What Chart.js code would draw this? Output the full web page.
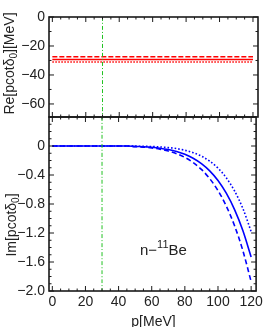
<!DOCTYPE html>
<html><head><meta charset="utf-8">
<script src="https://cdn.jsdelivr.net/npm/chart.js@4"></script>
<style>
html,body{margin:0;padding:0;background:#fff;}
#wrap{position:relative;width:266px;height:327px;}
canvas{position:absolute;left:0;top:0;}
</style></head><body>
<div id="wrap"><canvas id="top" width="266" height="327"></canvas><canvas id="bot" width="266" height="327"></canvas></div>
<script>
// ---- data ----
const pLine = [0, 120];
const reSolid = [-29.3, -29.3];
const reDashed = [-27.5, -27.5];
const reDotted = [-31.0, -31.0];
const pGrid = [0,5,10,15,20,25,30,35,40,45,50,55,60,65,70,75,80,85,90,95,100,105,110,115,120];
const imSolid  = [0,0,0,0,0,0,0,0,0,0,-0.006,-0.010,-0.018,-0.030,-0.049,-0.076,-0.114,-0.168,-0.243,-0.343,-0.476,-0.651,-0.877,-1.165,-1.53];
const imDashed = [0,0,0,0,0,0,0,0,0,0,-0.009,-0.016,-0.027,-0.044,-0.070,-0.106,-0.158,-0.228,-0.323,-0.450,-0.615,-0.828,-1.100,-1.442,-1.87];
const imDotted = [0,0,0,0,0,0,0,0,0,0,-0.002,-0.004,-0.007,-0.013,-0.022,-0.036,-0.059,-0.092,-0.140,-0.209,-0.306,-0.439,-0.620,-0.861,-1.18];
const pMark = 30;
const xTicks = [0,20,40,60,80,100,120];
const xTickLabels = ['0','20','40','60','80','100','120'];
const yTopTicks = [0,-20,-40,-60];
const yTopTickLabels = ['0','\u221220','\u221240','\u221260'];
const yBotTicks = [0,-0.4,-0.8,-1.2,-1.6,-2.0];
const yBotTickLabels = ['0','\u22120.4','\u22120.8','\u22121.2','\u22121.6','\u22122.0'];

const FONT = '"Liberation Sans", Arial, sans-serif';
const TXT = '#222';
const xy = (xs, ys) => xs.map((x,i)=>({x:x, y:ys[i]}));

function framePlugin(xMinorStep, yMinorStep) {
  return {
    id: 'frame',
    afterDraw(chart) {
      const {ctx, chartArea:a, scales:{x, y}} = chart;
      ctx.save();
      ctx.strokeStyle = '#1a1a1a';
      const seg = (x1,y1,x2,y2)=>{ctx.beginPath();ctx.moveTo(x1,y1);ctx.lineTo(x2,y2);ctx.stroke();};
      ctx.lineWidth = 1;
      const eps = 1e-6;
      for (let v = Math.ceil(x.min/xMinorStep)*xMinorStep; v <= x.max+eps; v += xMinorStep) {
        const px = x.getPixelForValue(v);
        const major = Math.abs(v/20 - Math.round(v/20)) < 1e-6;
        const L = major ? 5 : 2.5;
        seg(px, a.bottom, px, a.bottom - L);
        seg(px, a.top, px, a.top + L);
      }
      const ym = chart.options.plugins.frame.yMajor;
      for (let v = Math.ceil(y.min/yMinorStep - eps)*yMinorStep; v <= y.max+eps; v += yMinorStep) {
        const py = y.getPixelForValue(v);
        const major = Math.abs(v/ym - Math.round(v/ym)) < 1e-6;
        const L = major ? 5 : 2.5;
        seg(a.left, py, a.left + L, py);
        seg(a.right, py, a.right - L, py);
      }
      ctx.lineWidth = 1.6;
      ctx.strokeRect(a.left, a.top, a.right - a.left, a.bottom - a.top);
      ctx.restore();
    }
  };
}

function drawRotTitle(ctx, parts, cx, cy) {
  // parts: [{t, size, dy}]
  ctx.save();
  ctx.translate(cx, cy);
  ctx.rotate(-Math.PI/2);
  ctx.fillStyle = TXT;
  ctx.textBaseline = 'alphabetic';
  let w = 0;
  parts.forEach(p=>{ctx.font = p.size+'px '+FONT; p.w = ctx.measureText(p.t).width; w += p.w;});
  let x = -w/2;
  parts.forEach(p=>{ctx.font = p.size+'px '+FONT; ctx.fillText(p.t, x, p.dy); x += p.w;});
  ctx.restore();
}

const linesOpts = {pointRadius:0, fill:false, cubicInterpolationMode:'monotone'};

const topChart = new Chart(document.getElementById('top'), {
  type: 'line',
  data: { datasets: [
    {data: xy([pMark,pMark],[0,-69]), borderColor:'#22c222', borderWidth:1, borderDash:[4,2,1,2], ...linesOpts},
    {data: xy(pLine, reDashed), borderColor:'#ff0000', borderWidth:1.5, borderDash:[5,2], ...linesOpts},
    {data: xy(pLine, reSolid), borderColor:'#ff0000', borderWidth:1.5, ...linesOpts},
    {data: xy(pLine, reDotted), borderColor:'#ff0000', borderWidth:1.5, borderDash:[1.5,1.5], ...linesOpts},
  ]},
  options: {
    responsive:false, animation:false, devicePixelRatio:1,
    layout:{padding:{top:17, right:8, bottom:210, left:0}},
    plugins:{legend:{display:false}, tooltip:{enabled:false}, frame:{yMajor:20},
      ytitle:{}},
    scales:{
      x:{type:'linear', min:-2, max:123, display:false},
      y:{type:'linear', min:-69, max:0,
        afterFit:s=>{s.width=49;},
        afterBuildTicks:s=>{s.ticks = yTopTicks.map(v=>({value:v}));},
        grid:{display:false, drawTicks:false}, border:{display:false},
        ticks:{padding:4, color:TXT, font:{family:FONT, size:14}, autoSkip:false,
          callback:(v,i)=>yTopTickLabels[i]}}
    }
  },
  plugins:[framePlugin(5,10), {id:'ytitle', afterDraw(chart){
    drawRotTitle(chart.ctx, [{t:'Re[pcot\u03b4',size:14,dy:0},{t:'0',size:10,dy:3},{t:'][MeV]',size:14,dy:0}], 14, 63.5);
  }}]
});

const botChart = new Chart(document.getElementById('bot'), {
  type: 'line',
  data: { datasets: [
    {data: xy([pMark,pMark],[0.4,-2.0]), borderColor:'#22c222', borderWidth:1, borderDash:[4,2,1,2], ...linesOpts},
    {data: xy(pGrid, imDotted), borderColor:'#0000ff', borderWidth:1.6, borderDash:[1.6,2], ...linesOpts},
    {data: xy(pGrid, imSolid), borderColor:'#0000ff', borderWidth:1.6, ...linesOpts},
    {data: xy(pGrid, imDashed), borderColor:'#0000ff', borderWidth:1.6, borderDash:[5,3], ...linesOpts},
  ]},
  options: {
    responsive:false, animation:false, devicePixelRatio:1,
    layout:{padding:{top:117, right:8, bottom:0, left:0}},
    plugins:{legend:{display:false}, tooltip:{enabled:false}, frame:{yMajor:0.4}},
    scales:{
      x:{type:'linear', min:-2, max:123,
        afterFit:s=>{s.height=36;},
        afterBuildTicks:s=>{s.ticks = xTicks.map(v=>({value:v}));},
        grid:{display:false, drawTicks:false}, border:{display:false},
        ticks:{padding:3, color:TXT, font:{family:FONT, size:14}, autoSkip:false, maxRotation:0,
          callback:(v,i)=>xTickLabels[i]}},
      y:{type:'linear', min:-2.0, max:0.4,
        afterFit:s=>{s.width=49;},
        afterBuildTicks:s=>{s.ticks = yBotTicks.map(v=>({value:v}));},
        grid:{display:false, drawTicks:false}, border:{display:false},
        ticks:{padding:4, color:TXT, font:{family:FONT, size:14}, autoSkip:false,
          callback:(v,i)=>yBotTickLabels[i]}}
    }
  },
  plugins:[framePlugin(5,0.1), {id:'texts', afterDraw(chart){
    const ctx = chart.ctx;
    drawRotTitle(ctx, [{t:'Im[pcot\u03b4',size:14,dy:0},{t:'0',size:10,dy:3},{t:']',size:14,dy:0}], 16, 225);
    ctx.save();
    ctx.fillStyle = TXT;
    ctx.textBaseline = 'alphabetic';
    ctx.font = '14px '+FONT; ctx.textAlign='center';
    ctx.fillText('p[MeV]', 153.5, 326);
    ctx.textAlign='left';
    let x = 140;
    ctx.font = '15px '+FONT; ctx.fillText('n\u2212', x, 255); x += ctx.measureText('n\u2212').width;
    ctx.font = '11px '+FONT; ctx.fillText('11', x, 248); x += ctx.measureText('11').width;
    ctx.font = '15px '+FONT; ctx.fillText('Be', x, 255);
    ctx.restore();
  }}]
});
</script>
</body></html>
